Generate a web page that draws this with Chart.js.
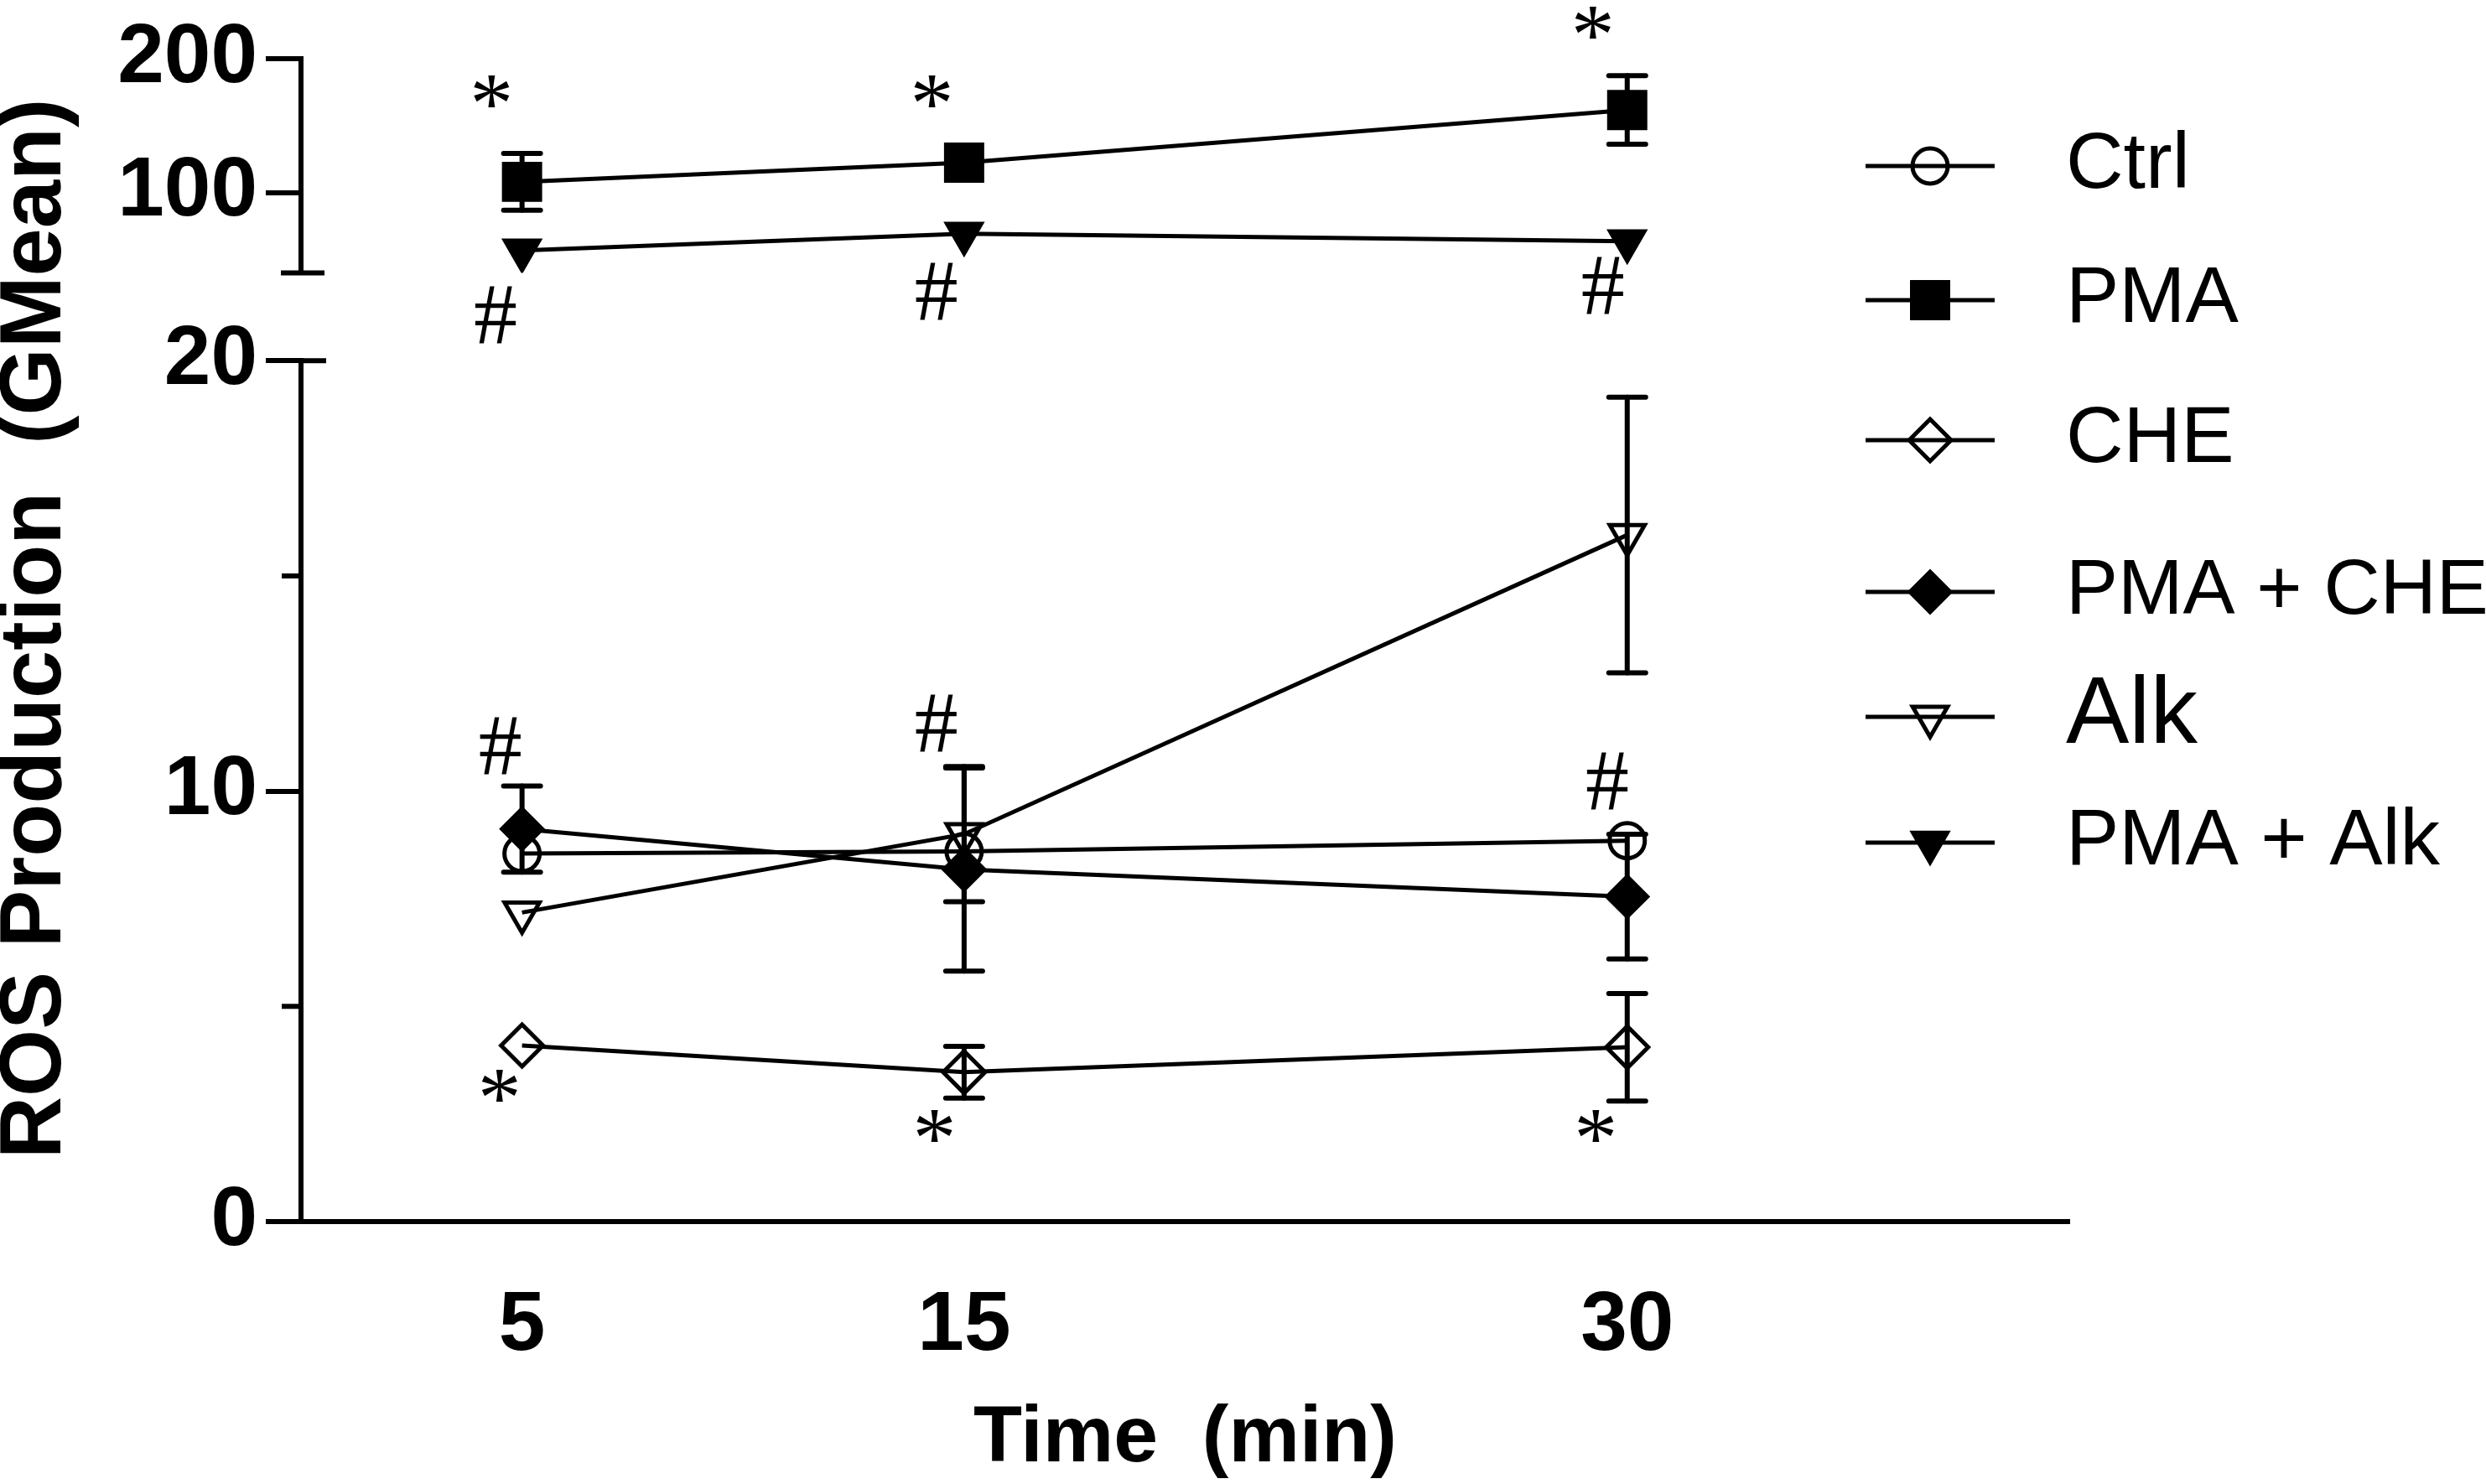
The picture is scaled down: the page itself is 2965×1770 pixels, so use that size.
<!DOCTYPE html>
<html>
<head>
<meta charset="utf-8">
<title>ROS Production</title>
<script src="https://cdn.jsdelivr.net/npm/chart.js@4.4.1/dist/chart.umd.min.js"></script>
<style>
  html, body { margin: 0; padding: 0; background: #fff; }
  canvas { display: block; }
</style>
</head>
<body>
<canvas id="chart" width="2965" height="1770"></canvas>
<script>
// time points (min) and axis ticks
const times = [5, 15, 30];
const xTicks = [5, 15, 30];
const upperTicks = [100, 200];
const lowerTicks = [0, 10, 20];
const lowerMinorTicks = [5, 15];

// GMean values, with +/- error
const ctrlMean = [8.55, 8.6, 8.85];
const ctrlErr = [0.1, 0.1, 0.1];
const pmaMean = [108, 122.3, 161.7];
const pmaErr = [21.2, 6, 25.6];
const cheMean = [4.09, 3.47, 4.05];
const cheErr = [0.15, 0.6, 1.25];
const pmaCheMean = [9.12, 8.18, 7.55];
const pmaCheErr = [1.0, 2.36, 1.45];
const alkMean = [7.18, 9.0, 15.95];
const alkErr = [0.2, 1.57, 3.2];
const pmaAlkMean = [56.7, 69.2, 63.6];
const pmaAlkErr = [3, 3, 3];

// significance marks (x in min, y in the units of their axis segment)
const topStarX = [4.32, 14.28, 29.23];
const topStarY = [176, 176, 227];
const topHashX = [4.4, 14.37, 29.45];
const topHashY = [8.6, 26, 30.4];
const lowHashX = [4.51, 14.37, 29.55];
const lowHashY = [11.06, 11.58, 10.24];
const lowStarX = [4.5, 14.34, 29.3];
const lowStarY = [3.16, 2.23, 2.24];

const marks = [
    { text: "*", axis: "yTop", xs: topStarX, ys: topStarY },
    { text: "#", axis: "yTop", xs: topHashX, ys: topHashY },
    { text: "#", axis: "yBot", xs: lowHashX, ys: lowHashY },
    { text: "*", axis: "yBot", xs: lowStarX, ys: lowStarY },
];

const legendLayout = {
    lineStart: 2225,
    lineEnd: 2379,
    symbolX: 2302,
    textX: 2464,
    rows: [198, 358, 525, 706, 855, 1005],
    fontSizes: [95, 95, 95, 93, 113, 95],
};

const toPoints = (means) => times.map((t, i) => ({ x: t, y: means[i] }));

function series(label, means, errors, axis, style) {
    return {
        label,
        data: toPoints(means),
        errors,
        yAxisID: axis,
        borderColor: "#000",
        borderWidth: 5,
        tension: 0,
        pointBorderColor: "#000",
        ...style,
    };
}

const open = "rgba(0,0,0,0)";

const datasets = [
    series("Ctrl", ctrlMean, ctrlErr, "yBot", {
        pointStyle: "circle", pointRadius: 21, pointBorderWidth: 5, pointBackgroundColor: open,
    }),
    series("PMA", pmaMean, pmaErr, "yTop", {
        pointStyle: "rect", pointRadius: 32.5, pointBorderWidth: 2, pointBackgroundColor: "#000",
    }),
    series("CHE", cheMean, cheErr, "yBot", {
        pointStyle: "rectRot", pointRadius: 25, pointBorderWidth: 5, pointBackgroundColor: open,
    }),
    series("PMA + CHE", pmaCheMean, pmaCheErr, "yBot", {
        pointStyle: "rectRot", pointRadius: 26, pointBorderWidth: 2, pointBackgroundColor: "#000",
    }),
    series("Alk", alkMean, alkErr, "yBot", {
        pointStyle: "triangle", pointRotation: 180, pointRadius: 24, pointBorderWidth: 5, pointBackgroundColor: open,
    }),
    series("PMA + Alk", pmaAlkMean, pmaAlkErr, "yTop", {
        pointStyle: "triangle", pointRotation: 180, pointRadius: 26.5, pointBorderWidth: 2, pointBackgroundColor: "#000",
    }),
];

function strokeLine(ctx, x1, y1, x2, y2) {
    ctx.beginPath();
    ctx.moveTo(x1, y1);
    ctx.lineTo(x2, y2);
    ctx.stroke();
}

// vertical error bars with caps; bars shorter than the symbol stay hidden
const errorBars = {
    id: "errorBars",
    afterDatasetsDraw(chart) {
        const { ctx } = chart;
        const xScale = chart.scales.x;
        ctx.save();
        ctx.strokeStyle = "#000";
        ctx.lineWidth = 6;
        ctx.lineCap = "round";
        chart.data.datasets.forEach((ds) => {
            const yScale = chart.scales[ds.yAxisID];
            ds.data.forEach((p, i) => {
                const e = ds.errors[i];
                const x = xScale.getPixelForValue(p.x);
                const yc = yScale.getPixelForValue(p.y);
                const yHi = yScale.getPixelForValue(p.y + e);
                const yLo = yScale.getPixelForValue(p.y - e);
                if (Math.abs(yc - yHi) <= ds.pointRadius) return;
                strokeLine(ctx, x, yHi, x, yLo);
                strokeLine(ctx, x - 22, yHi, x + 22, yHi);
                strokeLine(ctx, x - 22, yLo, x + 22, yLo);
            });
        });
        ctx.restore();
    },
};

// segment caps, minor ticks, y title, significance marks
const axisExtras = {
    id: "axisExtras",
    afterDraw(chart) {
        const { ctx } = chart;
        const top = chart.scales.yTop;
        const bot = chart.scales.yBot;
        const ax = bot.right;
        ctx.save();
        ctx.strokeStyle = "#000";
        ctx.lineWidth = 6;
        let y = top.getPixelForValue(top.min);
        strokeLine(ctx, ax - 24, y, ax + 28, y);
        y = bot.getPixelForValue(bot.max);
        strokeLine(ctx, ax, y, ax + 30, y);
        lowerMinorTicks.forEach((v) => {
            const py = bot.getPixelForValue(v);
            strokeLine(ctx, ax - 23, py, ax, py);
        });

        ctx.fillStyle = "#000";
        ctx.save();
        ctx.translate(72, 750);
        ctx.rotate(-Math.PI / 2);
        ctx.font = "bold 103px 'Liberation Sans', Arial, sans-serif";
        ctx.textAlign = "center";
        ctx.textBaseline = "alphabetic";
        ctx.fillText("ROS Production  (GMean)", 0, 0);
        ctx.restore();

        ctx.font = "104px 'Liberation Serif', 'Times New Roman', serif";
        ctx.textAlign = "left";
        ctx.textBaseline = "alphabetic";
        const xScale = chart.scales.x;
        marks.forEach((m) => {
            const yScale = chart.scales[m.axis];
            const tm = ctx.measureText(m.text);
            m.xs.forEach((xv, i) => {
                const cx = xScale.getPixelForValue(xv);
                const cy = yScale.getPixelForValue(m.ys[i]);
                const dx = (tm.actualBoundingBoxRight - tm.actualBoundingBoxLeft) / 2;
                const dy = (tm.actualBoundingBoxAscent - tm.actualBoundingBoxDescent) / 2;
                ctx.fillText(m.text, cx - dx, cy + dy);
            });
        });
        ctx.restore();
    },
};

const lineLegend = {
    id: "lineLegend",
    afterDraw(chart) {
        const { ctx } = chart;
        const L = legendLayout;
        chart.data.datasets.forEach((ds, i) => {
            const y = L.rows[i];
            ctx.save();
            ctx.strokeStyle = "#000";
            ctx.lineWidth = ds.borderWidth;
            strokeLine(ctx, L.lineStart, y, L.lineEnd, y);
            ctx.fillStyle = ds.pointBackgroundColor;
            ctx.strokeStyle = ds.pointBorderColor;
            ctx.lineWidth = ds.pointBorderWidth;
            Chart.helpers.drawPoint(ctx, {
                pointStyle: ds.pointStyle,
                rotation: ds.pointRotation || 0,
                radius: ds.pointRadius,
                borderWidth: ds.pointBorderWidth,
            }, L.symbolX, y);
            ctx.fillStyle = "#000";
            ctx.font = L.fontSizes[i] + "px 'Liberation Sans', Arial, sans-serif";
            ctx.textAlign = "left";
            ctx.textBaseline = "middle";
            ctx.fillText(ds.label, L.textX, y);
            ctx.restore();
        });
    },
};

const axisWidth = (scale) => { scale.width = 359; };
const blackTicks = { color: "#000", font: { size: 100, weight: "bold" }, padding: 10 };
const blackGrid = { display: true, drawOnChartArea: false, drawTicks: true, tickLength: 42, lineWidth: 6, color: "#000" };
const blackBorder = { display: true, width: 6, color: "#000" };

Chart.defaults.font.family = "'Liberation Sans', Arial, sans-serif";
Chart.defaults.color = "#000";

new Chart(document.getElementById("chart"), {
    type: "line",
    data: { datasets },
    options: {
        responsive: false,
        devicePixelRatio: 1,
        animation: false,
        events: [],
        layout: { padding: { top: 67, right: 497, bottom: 0, left: 0 } },
        plugins: { legend: { display: false }, tooltip: { enabled: false } },
        scales: {
            x: {
                type: "linear",
                min: 0,
                max: 40,
                afterBuildTicks: (s) => { s.ticks = xTicks.map((v) => ({ value: v })); },
                afterFit: (s) => { s.height = 313; },
                grid: { display: false, drawTicks: false },
                border: blackBorder,
                ticks: { ...blackTicks, padding: 65 },
                title: {
                    display: true,
                    text: "Time  (min)",
                    font: { size: 95, weight: "bold", lineHeight: 1.12 },
                    padding: { top: 0, bottom: 0 },
                },
            },
            yBot: {
                type: "linear",
                position: "left",
                stack: "ros",
                stackWeight: 1029,
                weight: 1,
                min: 0,
                max: 20,
                afterBuildTicks: (s) => { s.ticks = lowerTicks.map((v) => ({ value: v })); },
                afterFit: axisWidth,
                grid: blackGrid,
                border: blackBorder,
                ticks: blackTicks,
            },
            yGap: {
                type: "linear",
                position: "left",
                stack: "ros",
                stackWeight: 105,
                weight: 2,
                min: 0,
                max: 1,
                afterFit: axisWidth,
                grid: { display: false, drawTicks: false },
                border: { display: false },
                ticks: { display: false },
            },
            yTop: {
                type: "linear",
                position: "left",
                stack: "ros",
                stackWeight: 256,
                weight: 3,
                min: 40,
                max: 200,
                afterBuildTicks: (s) => { s.ticks = upperTicks.map((v) => ({ value: v })); },
                afterFit: axisWidth,
                grid: blackGrid,
                border: blackBorder,
                ticks: blackTicks,
            },
        },
    },
    plugins: [errorBars, axisExtras, lineLegend],
});
</script>
</body>
</html>
